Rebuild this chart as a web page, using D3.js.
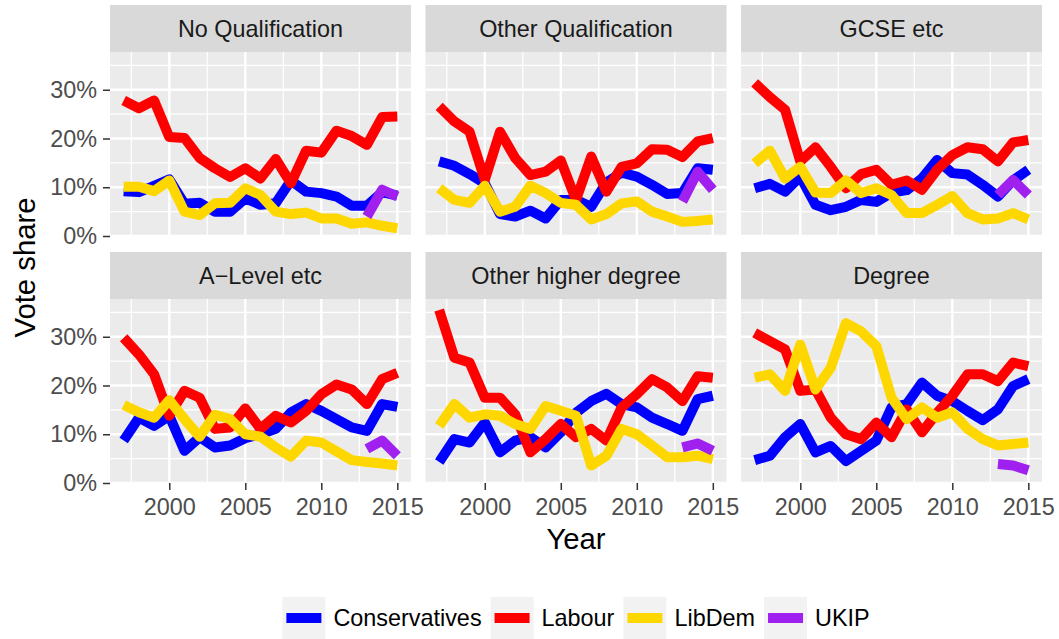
<!DOCTYPE html>
<html>
<head>
<meta charset="utf-8">
<script src="https://cdn.jsdelivr.net/npm/d3@7"></script>
<style>
  body { margin: 0; background: #fff; }
  svg text { font-family: "Liberation Sans", Arial, Helvetica, sans-serif; }
</style>
</head>
<body>
<svg id="chart" width="1059" height="639"></svg>
<script>
// data, vote share in % by year, one row per qualification facet
const years = [1997, 1998, 1999, 2000, 2001, 2002, 2003, 2004, 2005, 2006,
  2007, 2008, 2009, 2010, 2011, 2012, 2013, 2014, 2015];
const ukipYears = [2013, 2014, 2015];
const facets = ["No Qualification", "Other Qualification", "GCSE etc",
  "A\u2212Level etc", "Other higher degree", "Degree"];
const parties = ["Conservatives", "Labour", "LibDem", "UKIP"];
const partyColours = ["#0000FF", "#FF0000", "#FFD700", "#A020F0"];
const yTicks = [0, 10, 20, 30];
const xTicks = [2000, 2005, 2010, 2015];

const conservatives = [
  [9.2, 9.0, 10.3, 11.6, 6.6, 6.8, 5.0, 5.0, 7.7, 6.4, 6.7, 11.4, 9.1, 8.8, 8.1, 6.2, 6.2, 9.0, 8.3],
  [15.3, 14.4, 12.7, 10.8, 4.5, 4.0, 5.2, 3.6, 7.4, 7.4, 6.0, 11.0, 13.0, 12.2, 10.5, 8.6, 8.8, 13.9, 13.6],
  [9.8, 10.7, 9.1, 12.2, 6.4, 5.3, 6.0, 7.4, 7.0, 8.9, 9.4, 11.8, 15.6, 12.9, 12.6, 10.5, 8.1, 11.4, 13.6],
  [8.7, 13.4, 11.7, 13.8, 6.6, 9.4, 7.3, 7.7, 9.2, 10.0, 11.1, 14.5, 16.2, 14.8, 13.1, 11.4, 10.7, 16.2, 15.6],
  [4.3, 9.0, 8.3, 12.4, 6.3, 8.7, 9.4, 7.3, 10.4, 14.4, 16.8, 18.3, 16.2, 15.5, 13.4, 12.1, 10.7, 17.2, 17.9],
  [4.7, 5.6, 9.4, 12.1, 6.3, 7.6, 4.5, 6.6, 8.7, 15.5, 16.2, 20.6, 17.9, 16.8, 14.8, 12.9, 15.1, 19.9, 21.3]
];
const labour = [
  [27.8, 26.2, 27.8, 20.3, 20.1, 16.0, 13.9, 12.1, 13.9, 11.8, 15.8, 10.8, 17.5, 17.1, 21.6, 20.5, 18.7, 24.4, 24.5],
  [26.6, 23.5, 21.4, 11.5, 21.4, 16.0, 12.5, 13.2, 15.5, 7.4, 16.3, 9.1, 14.2, 14.9, 17.8, 17.7, 16.2, 19.4, 20.1],
  [31.4, 28.5, 25.9, 15.3, 18.2, 14.2, 9.8, 12.7, 13.6, 10.5, 11.4, 9.5, 13.6, 16.6, 18.2, 17.8, 15.3, 19.2, 19.7],
  [29.8, 26.4, 22.3, 13.8, 18.9, 17.5, 11.1, 11.4, 15.3, 11.1, 13.8, 12.4, 14.8, 18.2, 20.2, 19.2, 16.2, 21.3, 22.6],
  [35.5, 25.7, 24.7, 17.5, 17.5, 14.1, 6.3, 9.0, 12.1, 9.4, 11.1, 8.7, 15.5, 18.2, 21.3, 19.6, 16.8, 21.9, 21.6],
  [30.8, 29.1, 27.4, 18.9, 19.2, 13.4, 10.0, 9.0, 12.4, 9.4, 15.1, 10.4, 14.4, 17.9, 22.3, 22.3, 20.9, 24.7, 24.0]
];
const libdem = [
  [10.1, 10.1, 9.2, 11.4, 5.0, 4.3, 6.7, 6.8, 9.8, 8.4, 5.0, 4.5, 4.8, 3.6, 3.6, 2.5, 2.8, 2.1, 1.6],
  [9.8, 7.4, 6.8, 10.3, 5.0, 6.0, 10.3, 8.8, 6.8, 6.4, 3.4, 4.5, 6.7, 7.1, 5.0, 4.0, 2.9, 3.1, 3.4],
  [14.9, 17.5, 11.8, 14.2, 8.9, 8.8, 11.4, 8.8, 9.8, 8.4, 4.7, 4.7, 6.4, 8.2, 4.7, 3.4, 3.6, 4.7, 3.4],
  [16.0, 14.5, 13.4, 17.0, 13.1, 9.5, 14.0, 13.1, 10.0, 9.5, 7.3, 5.4, 8.7, 8.3, 6.5, 4.7, 4.3, 4.0, 3.6],
  [11.7, 16.2, 13.4, 14.1, 13.8, 12.1, 11.1, 15.8, 14.8, 13.8, 3.6, 5.6, 11.1, 10.0, 7.7, 5.3, 5.3, 5.6, 4.9],
  [21.6, 22.3, 18.9, 28.4, 19.2, 23.6, 32.8, 31.1, 28.1, 17.5, 13.1, 15.5, 13.4, 14.5, 11.1, 9.0, 7.7, 8.0, 8.3]
];
const ukip = [
  [4.0, 9.5, 8.1],
  [7.1, 13.2, 9.5],
  [8.4, 11.5, 8.4],
  [7.0, 8.7, 5.6],
  [7.3, 8.1, 6.6],
  [3.9, 3.6, 2.6]
];

const svg = d3.select("#chart");

const panelW = 301, panelH = 184, stripH = 47;
const colX = [110, 425.5, 741];
const rowTop = [5, 252];
const fontSmall = 23.4, fontTitle = 29.3;

const x = d3.scaleLinear().domain([1996.1, 2015.9]).range([0, panelW]);
const y = d3.scaleLinear().domain([0, 37.75]).range([panelH, 0]);

const line = d3.line()
  .x(d => x(d[0]))
  .y(d => y(d[1]));

function seriesFor(i) {
  return [
    years.map((yr, j) => [yr, conservatives[i][j]]),
    years.map((yr, j) => [yr, labour[i][j]]),
    years.map((yr, j) => [yr, libdem[i][j]]),
    ukipYears.map((yr, j) => [yr, ukip[i][j]])
  ];
}

facets.forEach((name, i) => {
  const col = i % 3, row = Math.floor(i / 3);
  const g = svg.append("g")
    .attr("transform", "translate(" + colX[col] + "," + (rowTop[row] + stripH) + ")");

  // strip
  g.append("rect")
    .attr("x", 0).attr("y", -stripH)
    .attr("width", panelW).attr("height", stripH)
    .attr("fill", "#D9D9D9");
  g.append("text")
    .attr("x", panelW / 2).attr("y", -stripH / 2)
    .attr("dy", "0.35em")
    .attr("text-anchor", "middle")
    .attr("fill", "#1A1A1A")
    .style("font-size", fontSmall + "px")
    .text(name);

  // panel background + grid
  g.append("rect")
    .attr("width", panelW).attr("height", panelH)
    .attr("fill", "#EBEBEB");

  const xMinor = xTicks.map(t => t - 2.5);
  const yMinor = yTicks.map(t => t + 5);
  g.selectAll(".xminor").data(xMinor).enter().append("line")
    .attr("x1", d => x(d)).attr("x2", d => x(d))
    .attr("y1", 0).attr("y2", panelH)
    .attr("stroke", "#fff").attr("stroke-width", 1.2);
  g.selectAll(".yminor").data(yMinor).enter().append("line")
    .attr("x1", 0).attr("x2", panelW)
    .attr("y1", d => y(d)).attr("y2", d => y(d))
    .attr("stroke", "#fff").attr("stroke-width", 1.2);
  g.selectAll(".xmajor").data(xTicks).enter().append("line")
    .attr("x1", d => x(d)).attr("x2", d => x(d))
    .attr("y1", 0).attr("y2", panelH)
    .attr("stroke", "#fff").attr("stroke-width", 2.4);
  g.selectAll(".ymajor").data(yTicks).enter().append("line")
    .attr("x1", 0).attr("x2", panelW)
    .attr("y1", d => y(d)).attr("y2", d => y(d))
    .attr("stroke", "#fff").attr("stroke-width", 2.4);

  // lines
  g.selectAll(".series").data(seriesFor(i)).enter().append("path")
    .attr("d", line)
    .attr("fill", "none")
    .attr("stroke", (d, k) => partyColours[k])
    .attr("stroke-width", 10)
    .attr("stroke-linejoin", "round")
    .attr("stroke-linecap", "butt");

  // axes only on outer panels
  if (col === 0) {
    const ax = g.append("g")
      .call(d3.axisLeft(y).tickValues(yTicks).tickFormat(d => d + "%").tickSize(7).tickPadding(6));
    styleAxis(ax);
  }
  if (row === 1) {
    const ax = g.append("g")
      .attr("transform", "translate(0," + panelH + ")")
      .call(d3.axisBottom(x).tickValues(xTicks).tickFormat(d3.format("d")).tickSize(7).tickPadding(8));
    styleAxis(ax);
  }
});

function styleAxis(ax) {
  ax.select(".domain").remove();
  ax.selectAll(".tick line").attr("stroke", "#333333").attr("stroke-width", 1.5);
  ax.selectAll(".tick text")
    .attr("fill", "#4D4D4D")
    .style("font-size", fontSmall + "px")
    .style("font-family", "'Liberation Sans', Arial, sans-serif");
}

// axis titles
svg.append("text")
  .attr("x", (colX[0] + colX[2] + panelW) / 2)
  .attr("y", 549)
  .attr("text-anchor", "middle")
  .attr("fill", "#000")
  .style("font-size", fontTitle + "px")
  .text("Year");

svg.append("text")
  .attr("transform", "translate(35," + (rowTop[0] + stripH + (rowTop[1] + stripH + panelH - rowTop[0] - stripH) / 2) + ") rotate(-90)")
  .attr("text-anchor", "middle")
  .attr("fill", "#000")
  .style("font-size", fontTitle + "px")
  .text("Vote share");

// legend
const keyW = 43, keyH = 42, labelGap = 8, itemGap = 9;
const legend = svg.append("g");
const items = legend.selectAll(".item").data(parties).enter().append("g");
items.append("rect")
  .attr("width", keyW).attr("height", keyH)
  .attr("fill", "#F2F2F2");
items.append("line")
  .attr("x1", 4).attr("x2", keyW - 4)
  .attr("y1", keyH / 2).attr("y2", keyH / 2)
  .attr("stroke", (d, k) => partyColours[k])
  .attr("stroke-width", 10);
items.append("text")
  .attr("x", keyW + labelGap)
  .attr("y", keyH / 2)
  .attr("dy", "0.35em")
  .attr("fill", "#000")
  .style("font-size", fontSmall + "px")
  .text(d => d);

let offset = 0;
items.each(function () {
  const w = keyW + labelGap + this.querySelector("text").getComputedTextLength();
  d3.select(this).attr("transform", "translate(" + offset + ",0)");
  offset += w + itemGap;
});
const legendW = offset - itemGap;
const centre = (colX[0] + colX[2] + panelW) / 2;
legend.attr("transform", "translate(" + (centre - legendW / 2) + "," + (618 - keyH / 2) + ")");
</script>
</body>
</html>
